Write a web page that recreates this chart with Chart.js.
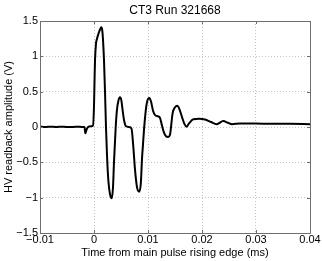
<!DOCTYPE html>
<html>
<head>
<meta charset="utf-8">
<script src="https://cdn.jsdelivr.net/npm/chart.js@4/dist/chart.umd.min.js"></script>
<style>
  html, body { margin: 0; padding: 0; background: #fff; }
  #wrap { width: 322px; height: 261px; }
</style>
</head>
<body>
<div id="wrap"><canvas id="chart" width="322" height="261"></canvas></div>
<script>
// readback trace, time in ms from the main pulse rising edge
const timeMs = [
  -0.01, -0.009, -0.008, -0.007, -0.006, -0.005, -0.004, -0.003, -0.0022,
  -0.00176, -0.00161, -0.00139, -0.00111, -0.00056, -0.00019,
  0, 0.00011, 0.00019, 0.00037, 0.00056, 0.00083, 0.00111, 0.00135,
  0.00154, 0.00167, 0.00185, 0.00204, 0.00222, 0.00241, 0.00265, 0.00296,
  0.00328, 0.00352, 0.0037, 0.00402, 0.00426, 0.00454, 0.00481, 0.00506,
  0.00528, 0.00556, 0.00593, 0.00648, 0.00694, 0.00728, 0.00759, 0.00796,
  0.00839, 0.00867, 0.00889, 0.00907, 0.00926, 0.00954, 0.00981, 0.01024,
  0.01056, 0.01093, 0.0113, 0.01185, 0.01222, 0.01259, 0.01296, 0.01333,
  0.01376, 0.01407, 0.01457, 0.015, 0.01543, 0.01583, 0.0163, 0.01676,
  0.01717, 0.01759, 0.01839, 0.01944, 0.02056, 0.02167, 0.02272, 0.02394,
  0.02481, 0.02556, 0.02704, 0.03, 0.03259, 0.0363, 0.04
];
const voltage = [
  0.005, 0.0, 0.005, 0.0, 0.005, 0.0, 0.0, 0.005, 0.0,
  0.0, -0.09, -0.04, 0.0, 0.01, 0.02,
  0.3, 0.7, 0.95, 1.18, 1.25, 1.32, 1.38, 1.41,
  1.36, 1.23, 0.95, 0.5, 0.0, -0.4, -0.75, -0.95,
  -1.01, -0.85, -0.5, 0.0, 0.25, 0.38, 0.42, 0.38,
  0.25, 0.1, 0.01, 0.0, -0.02, -0.28, -0.6, -0.85,
  -0.915, -0.8, -0.45, -0.25, -0.04, 0.2, 0.35, 0.41,
  0.36, 0.23, 0.17, 0.15, 0.13, 0.02, -0.08, -0.13,
  -0.14, -0.11, 0.2, 0.28, 0.3, 0.25, 0.14, 0.04,
  0.005, 0.05, 0.11, 0.115, 0.105, 0.07, 0.04, 0.085,
  0.06, 0.04, 0.05, 0.05, 0.045, 0.045, 0.04
];

const xRange = [-0.01, 0.04];
const yRange = [-1.5, 1.5];

const FONT = "'Liberation Sans', Arial, Helvetica, sans-serif";

function fmtTick(v) {
  return String(parseFloat(v.toFixed(3))).replace("-", "\u2212");
}

// matlab-ish axes box with inward ticks
const axesBox = {
  id: "axesBox",
  afterDraw(chart) {
    const { ctx, chartArea: a, scales } = chart;
    const len = 3;
    ctx.save();
    ctx.strokeStyle = "#6e6e6e";
    ctx.lineWidth = 1;
    ctx.beginPath();
    ctx.rect(Math.round(a.left) + 0.5, Math.round(a.top) + 0.5,
      Math.round(a.right - a.left), Math.round(a.bottom - a.top));
    scales.x.ticks.forEach((t) => {
      const px = Math.round(scales.x.getPixelForValue(t.value)) + 0.5;
      ctx.moveTo(px, a.bottom); ctx.lineTo(px, a.bottom - len);
      ctx.moveTo(px, a.top); ctx.lineTo(px, a.top + len);
    });
    scales.y.ticks.forEach((t) => {
      const py = Math.round(scales.y.getPixelForValue(t.value)) + 0.5;
      ctx.moveTo(a.left, py); ctx.lineTo(a.left + len, py);
      ctx.moveTo(a.right, py); ctx.lineTo(a.right - len, py);
    });
    ctx.stroke();
    ctx.restore();
  },
};

const points = timeMs.map((t, i) => ({ x: t, y: voltage[i] }));

new Chart(document.getElementById("chart"), {
  type: "line",
  data: {
    datasets: [{
      data: points,
      borderColor: "#000",
      borderWidth: 2,
      pointRadius: 0,
      cubicInterpolationMode: "monotone",
      fill: false,
    }],
  },
  options: {
    responsive: false,
    animation: false,
    layout: { padding: { left: 0, top: 0, right: 12, bottom: 0 } },
    plugins: {
      legend: { display: false },
      tooltip: { enabled: false },
      title: {
        display: true,
        text: "CT3 Run 321668",
        fullSize: false,
        color: "#000",
        font: { family: FONT, size: 12, weight: "normal" },
        padding: { top: 3.3, bottom: 3.3 },
      },
    },
    scales: {
      x: {
        type: "linear",
        min: xRange[0],
        max: xRange[1],
        afterFit: (s) => { s.height = 28; },
        ticks: {
          stepSize: 0.01,
          padding: 0,
          color: "#000",
          font: { family: FONT, size: 11 },
          maxRotation: 0,
          autoSkip: false,
          callback: fmtTick,
        },
        grid: { color: "#c4c4c4", drawTicks: false, lineWidth: 1 },
        border: { display: false, dash: [1, 2] },
        title: {
          display: true,
          text: "Time from main pulse rising edge (ms)",
          color: "#000",
          font: { family: FONT, size: 11 },
          padding: { top: 0, bottom: 1.5 },
        },
      },
      y: {
        type: "linear",
        min: yRange[0],
        max: yRange[1],
        afterFit: (s) => { s.width = 40; },
        ticks: {
          stepSize: 0.5,
          padding: 2,
          color: "#000",
          font: { family: FONT, size: 11 },
          callback: fmtTick,
        },
        grid: { color: "#c4c4c4", drawTicks: false, lineWidth: 1 },
        border: { display: false, dash: [1, 2] },
        title: {
          display: true,
          text: "HV readback amplitude (V)",
          color: "#000",
          font: { family: FONT, size: 11 },
          padding: { top: 2, bottom: 0 },
        },
      },
    },
  },
  plugins: [axesBox],
});
</script>
</body>
</html>
